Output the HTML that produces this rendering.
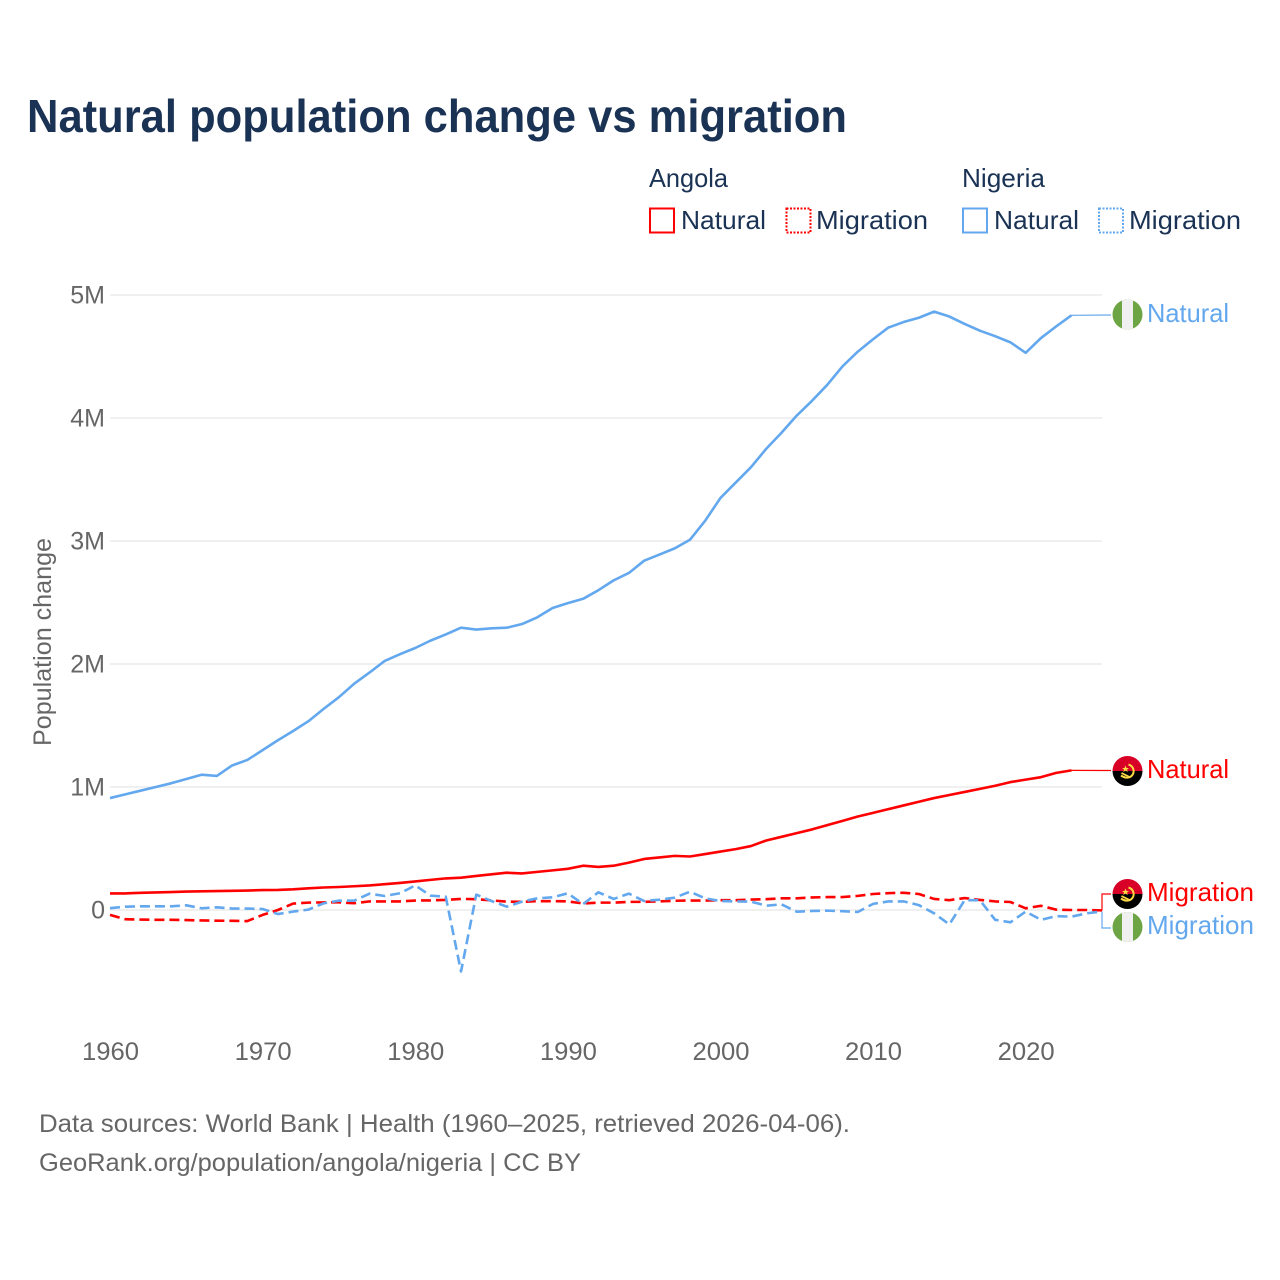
<!DOCTYPE html>
<html lang="en">
<head>
<meta charset="utf-8">
<title>Natural population change vs migration</title>
<style>
html,body{margin:0;padding:0;background:#fff;width:1280px;height:1280px;overflow:hidden}
svg{display:block}
text{font-family:"Liberation Sans",sans-serif}
</style>
</head>
<body>
<svg id="chart" xmlns="http://www.w3.org/2000/svg" width="1280" height="1280" viewBox="0 0 1280 1280">
  <defs>
    <clipPath id="flag-clip"><circle cx="0" cy="0" r="15"></circle></clipPath>
    <g id="flag-angola" clip-path="url(#flag-clip)">
      <rect x="-15" y="-15" width="30" height="15" fill="#d80027"></rect>
      <rect x="-15" y="0" width="30" height="15" fill="#000"></rect>
      <path d="M1,-6.5 C6,-5 8,1 4,5 C1,7.5 -3,7 -6.5,4.5" fill="none" stroke="#ffda44" stroke-width="2"></path>
      <path d="M-6,2 L3,6.5" fill="none" stroke="#ffda44" stroke-width="1.8"></path>
      <path d="M-2,-5.5 L-1,-3 L1.5,-3 L-0.5,-1.5 L0.3,1 L-2,-0.5 L-4.3,1 L-3.5,-1.5 L-5.5,-3 L-3,-3 Z" fill="#ffda44"></path>
    </g>
    <g id="flag-nigeria" clip-path="url(#flag-clip)">
      <rect x="-15" y="-15" width="30" height="30" fill="#6da544"></rect>
      <rect x="-5.5" y="-15" width="11" height="30" fill="#f0f0f0"></rect>
    </g>
  </defs>

  <text x="27" y="132" font-size="46" font-weight="700" fill="#1a3254" textLength="820" lengthAdjust="spacingAndGlyphs">Natural population change vs migration</text>

  <g font-size="26" fill="#1a3254">
    <text x="649" y="187" textLength="79" lengthAdjust="spacingAndGlyphs">Angola</text>
    <text x="962" y="187" textLength="83" lengthAdjust="spacingAndGlyphs">Nigeria</text>

    <rect x="650" y="208.500" width="24" height="24" fill="none" stroke="#ff0000" stroke-width="2"></rect>
    <text x="681" y="229" textLength="85" lengthAdjust="spacingAndGlyphs">Natural</text>
    <rect x="786.500" y="208.500" width="24" height="24" fill="none" stroke="#ff0000" stroke-width="2" stroke-dasharray="2 1.500"></rect>
    <text x="816" y="229" textLength="112" lengthAdjust="spacingAndGlyphs">Migration</text>

    <rect x="963" y="208.500" width="24" height="24" fill="none" stroke="#63a8ee" stroke-width="2"></rect>
    <text x="994" y="229" textLength="85" lengthAdjust="spacingAndGlyphs">Natural</text>
    <rect x="1099" y="208.500" width="24" height="24" fill="none" stroke="#63a8ee" stroke-width="2" stroke-dasharray="2 1.500"></rect>
    <text x="1129" y="229" textLength="112" lengthAdjust="spacingAndGlyphs">Migration</text>
  </g>

  <text transform="translate(51 746) rotate(-90)" font-size="25" fill="#666666" textLength="208" lengthAdjust="spacingAndGlyphs">Population change</text>

  <g id="grid-layer"></g>
  <g id="y-tick-layer"></g>
  <g id="x-tick-layer"></g>
  <g id="connector-layer"></g>
  <g id="series-layer"></g>

  <use href="#flag-nigeria" x="1127.500" y="314.500"></use>
  <use href="#flag-angola" x="1127.500" y="771"></use>
  <use href="#flag-angola" x="1127.500" y="894"></use>
  <use href="#flag-nigeria" x="1127.500" y="927"></use>

  <g font-size="26">
    <text x="1147" y="322" fill="#63a8ee" textLength="82" lengthAdjust="spacingAndGlyphs">Natural</text>
    <text x="1147" y="778" fill="#ff0000" textLength="82" lengthAdjust="spacingAndGlyphs">Natural</text>
    <text x="1147" y="901" fill="#ff0000" textLength="107" lengthAdjust="spacingAndGlyphs">Migration</text>
    <text x="1147" y="934" fill="#63a8ee" textLength="107" lengthAdjust="spacingAndGlyphs">Migration</text>
  </g>

  <g font-size="25" fill="#666666">
    <text x="39" y="1132" textLength="811" lengthAdjust="spacingAndGlyphs">Data sources: World Bank | Health (1960–2025, retrieved 2026-04-06).</text>
    <text x="39" y="1171" textLength="542" lengthAdjust="spacingAndGlyphs">GeoRank.org/population/angola/nigeria | CC BY</text>
  </g>
</svg>
<script>
const years = [1960,1961,1962,1963,1964,1965,1966,1967,1968,1969,1970,1971,1972,1973,1974,1975,1976,1977,1978,1979,1980,1981,1982,1983,1984,1985,1986,1987,1988,1989,1990,1991,1992,1993,1994,1995,1996,1997,1998,1999,2000,2001,2002,2003,2004,2005,2006,2007,2008,2009,2010,2011,2012,2013,2014,2015,2016,2017,2018,2019,2020,2021,2022,2023,2024,2025];
const xTickYears = [1960,1970,1980,1990,2000,2010,2020];
const yTickValues = [0,1,2,3,4,5];
const yTickLabels = ["0","1M","2M","3M","4M","5M"];

const nigeriaNatural = [0.91,0.94,0.97,1.0,1.03,1.065,1.10,1.09,1.175,1.22,1.30,1.38,1.455,1.535,1.635,1.73,1.84,1.93,2.025,2.08,2.13,2.19,2.24,2.295,2.28,2.29,2.295,2.325,2.38,2.455,2.495,2.53,2.60,2.68,2.74,2.84,2.89,2.94,3.01,3.165,3.35,3.475,3.60,3.75,3.88,4.02,4.14,4.27,4.42,4.54,4.64,4.735,4.78,4.815,4.865,4.825,4.765,4.71,4.665,4.615,4.53,4.65,4.745,4.835];
const angolaNatural = [0.135,0.135,0.14,0.143,0.146,0.15,0.152,0.154,0.156,0.158,0.162,0.163,0.168,0.176,0.183,0.187,0.193,0.20,0.21,0.22,0.232,0.245,0.257,0.263,0.277,0.29,0.303,0.297,0.31,0.322,0.335,0.36,0.35,0.36,0.385,0.415,0.427,0.44,0.435,0.455,0.475,0.495,0.52,0.565,0.595,0.625,0.655,0.69,0.725,0.76,0.79,0.82,0.85,0.88,0.91,0.935,0.96,0.985,1.01,1.04,1.06,1.08,1.115,1.135];
const angolaMigration = [-0.04,-0.075,-0.078,-0.08,-0.08,-0.082,-0.085,-0.087,-0.088,-0.09,-0.04,0,0.052,0.06,0.062,0.062,0.055,0.07,0.07,0.07,0.077,0.078,0.082,0.09,0.088,0.078,0.068,0.066,0.072,0.072,0.07,0.053,0.06,0.06,0.066,0.066,0.07,0.075,0.077,0.077,0.08,0.08,0.085,0.088,0.095,0.095,0.102,0.105,0.105,0.115,0.13,0.137,0.14,0.13,0.09,0.08,0.097,0.082,0.07,0.065,0.014,0.034,0.003,0,0,-0.003];
const nigeriaMigration = [0.015,0.027,0.03,0.03,0.03,0.038,0.014,0.022,0.012,0.012,0.008,-0.033,-0.013,0.003,0.054,0.076,0.076,0.133,0.114,0.136,0.20,0.117,0.108,-0.50,0.125,0.073,0.027,0.068,0.095,0.103,0.136,0.048,0.144,0.09,0.133,0.073,0.084,0.10,0.149,0.095,0.073,0.07,0.068,0.035,0.046,-0.014,-0.008,-0.005,-0.01,-0.016,0.05,0.07,0.07,0.04,-0.027,-0.117,0.08,0.08,-0.08,-0.10,-0.013,-0.08,-0.05,-0.054,-0.027,-0.012];

const SVG_NS = "http://www.w3.org/2000/svg";
const plot = { left: 110, right: 1102, zero: 910, perMillion: 123, firstYear: 1960, lastYear: 2025 };
const colors = { red: "#ff0000", blue: "#63a8ee", grid: "#ebebeb", tick: "#666666" };

function xScale(year) {
  return plot.left + (year - plot.firstYear) * (plot.right - plot.left) / (plot.lastYear - plot.firstYear);
}
function yScale(millions) {
  return plot.zero - millions * plot.perMillion;
}
function make(tag, attrs, parent) {
  const el = document.createElementNS(SVG_NS, tag);
  Object.keys(attrs).forEach(function (k) { el.setAttribute(k, attrs[k]); });
  parent.appendChild(el);
  return el;
}
function linePath(values) {
  return values.map(function (v, i) {
    return (i ? "L" : "M") + xScale(years[i]).toFixed(2) + "," + yScale(v).toFixed(2);
  }).join(" ");
}

const gridLayer = document.getElementById("grid-layer");
const yTickLayer = document.getElementById("y-tick-layer");
const xTickLayer = document.getElementById("x-tick-layer");
const connectorLayer = document.getElementById("connector-layer");
const seriesLayer = document.getElementById("series-layer");

yTickValues.forEach(function (v, i) {
  const line = make("line", { x1: plot.left, x2: plot.right, y1: yScale(v), y2: yScale(v), stroke: colors.grid, "stroke-width": 1.5 }, gridLayer);
  
  
  const label = make("text", { x: 105, y: yScale(v) + 8.5, "text-anchor": "end", "font-size": 25, fill: colors.tick }, yTickLayer);
  
  
  label.textContent = yTickLabels[i];
});

xTickYears.forEach(function (yr) {
  const label = make("text", { x: xScale(yr) + 0.5, y: 1060, "text-anchor": "middle", "font-size": 25, fill: colors.tick, textLength: 57, lengthAdjust: "spacingAndGlyphs" }, xTickLayer);
  
  
  label.textContent = String(yr);
});

function connector(values, points, color) {
  const lastIndex = values.length - 1;
  const sx = xScale(years[lastIndex]);
  const sy = yScale(values[lastIndex]);
  const d = "M" + sx + "," + sy + " " + points;
  const path = make("path", { d: d, fill: "none", stroke: color, "stroke-width": 1.2 }, connectorLayer);
  
  
}
connector(nigeriaNatural, "L1111,315", colors.blue);
connector(angolaNatural, "L1111,770.5", colors.red);
connector(angolaMigration, "L1102,894 L1111,894", colors.red);
connector(nigeriaMigration, "L1102,928 L1111,928", colors.blue);

function series(values, color, dashed, name) {
  const attrs = { d: linePath(values), fill: "none", stroke: color, "stroke-width": 2.6, "stroke-linejoin": "round" };
  if (dashed) { attrs["stroke-dasharray"] = "10 5"; }
  const path = make("path", attrs, seriesLayer);
  
  
}
series(angolaNatural, colors.red, false, 'line-angola-natural');
series(angolaMigration, colors.red, true, 'line-angola-migration');
series(nigeriaNatural, colors.blue, false, 'line-nigeria-natural');
series(nigeriaMigration, colors.blue, true, 'line-nigeria-migration');
</script>
</body>
</html>
